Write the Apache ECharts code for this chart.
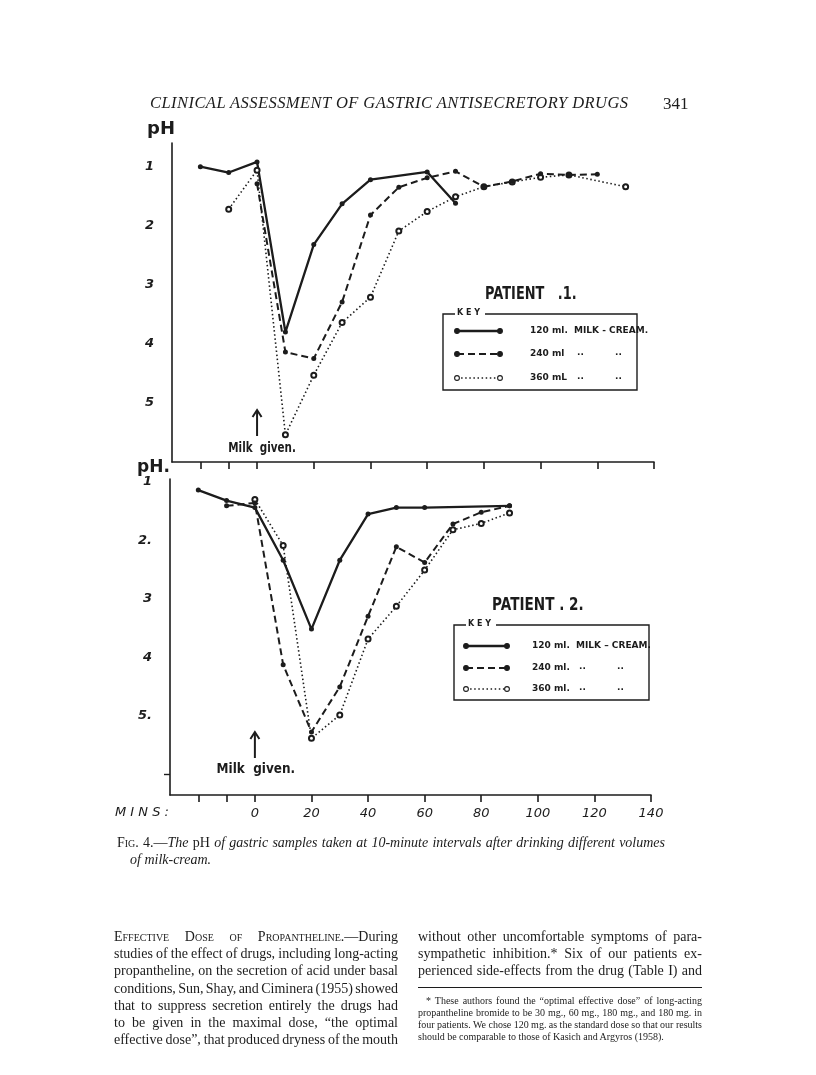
<!DOCTYPE html>
<html>
<head>
<meta charset="utf-8">
<script src="https://cdn.jsdelivr.net/npm/echarts@6/dist/echarts.min.js"></script>
<style>
  body { margin: 0; background: #fff; }
  #page { position: relative; width: 816px; height: 1075px; overflow: hidden; background: #fff; color: #1c1c1c; }
  #chart { position: absolute; left: 0; top: 0; width: 816px; height: 1075px; }
  .ln { position: absolute; display: inline-block; white-space: nowrap; font-family: 'Liberation Serif', 'DejaVu Serif', serif; line-height: 1; }
  .body { font-size: 14px; }
  .foot { font-size: 10px; }
  .sc { font-variant: small-caps; }
  .it { font-style: italic; }
</style>
</head>
<body>
<div id="page">
  <div id="chart"></div>

  <span class="ln it" id="hdr" style="left:150px;top:95px;font-size:16.5px">CLINICAL ASSESSMENT OF GASTRIC ANTISECRETORY DRUGS</span>
  <span class="ln" style="left:663px;top:95px;font-size:17px">341</span>

  <span class="ln cap" id="cap1" style="left:117px;top:836px;font-size:14px"><span class="sc">Fig.</span> 4.—<i>The </i>pH<i> of gastric samples taken at 10-minute intervals after drinking different volumes</i></span>
  <span class="ln it" style="left:130px;top:853px;font-size:14px">of milk-cream.</span>

  <span class="ln body jl" style="left:114px;top:930px"><span class="sc">Effective Dose of Propantheline.</span>—During</span>
  <span class="ln body jl" style="left:114px;top:947px">studies of the effect of drugs, including long-acting</span>
  <span class="ln body jl" style="left:114px;top:964px">propantheline, on the secretion of acid under basal</span>
  <span class="ln body jl" style="left:114px;top:982px">conditions, Sun, Shay, and Ciminera (1955) showed</span>
  <span class="ln body jl" style="left:114px;top:999px">that to suppress secretion entirely the drugs had</span>
  <span class="ln body jl" style="left:114px;top:1016px">to be given in the maximal dose, “the optimal</span>
  <span class="ln body jl" style="left:114px;top:1033px">effective dose”, that produced dryness of the mouth</span>

  <span class="ln body jr" style="left:418px;top:930px">without other uncomfortable symptoms of para-</span>
  <span class="ln body jr" style="left:418px;top:947px">sympathetic inhibition.*  Six of our patients ex-</span>
  <span class="ln body jr" style="left:418px;top:964px">perienced side-effects from the drug (Table I) and</span>
  <div style="position:absolute;left:418px;top:987px;width:284px;height:1px;background:#1c1c1c"></div>
  <span class="ln foot" id="f1" style="left:426px;top:996px">* These authors found the “optimal effective dose” of long-acting</span>
  <span class="ln foot jr" style="left:418px;top:1008px">propantheline bromide to be 30 mg., 60 mg., 180 mg., and 180 mg.  in</span>
  <span class="ln foot jr" style="left:418px;top:1020px">four patients. We chose 120 mg. as the standard dose so that our results</span>
  <span class="ln foot" style="left:418px;top:1032px">should be comparable to those of Kasich and Argyros (1958).</span>
</div>

<script>
// minutes after milk, pH values
const tickMins = [-20, -10, 0, 20, 40, 60, 80, 100, 120, 140];
const labelMins = [0, 20, 40, 60, 80, 100, 120, 140];
const phTicks = [1, 2, 3, 4, 5];

// Patient 1
const p1_120 = [[-20, 1.0], [-10, 1.1], [0, 0.92], [10, 3.8], [20, 2.32], [30, 1.63], [40, 1.22], [60, 1.09], [70, 1.62]];
const p1_240 = [[0, 1.29], [10, 4.14], [20, 4.25], [30, 3.29], [40, 1.82], [50, 1.35], [60, 1.19], [70, 1.08], [80, 1.34], [90, 1.25], [100, 1.12], [110, 1.14], [120, 1.13]];
const p1_360 = [[-10, 1.72], [0, 1.06], [10, 5.54], [20, 4.53], [30, 3.64], [40, 3.21], [50, 2.09], [60, 1.76], [70, 1.51], [80, 1.34], [90, 1.26], [100, 1.18], [110, 1.14], [130, 1.34]];

// Patient 2
const p2_120 = [[-20, 1.14], [-10, 1.32], [0, 1.44], [10, 2.34], [20, 3.52], [30, 2.34], [40, 1.55], [50, 1.44], [60, 1.44], [90, 1.41]];
const p2_240 = [[-10, 1.41], [0, 1.36], [10, 4.13], [20, 5.28], [30, 4.51], [40, 3.3], [50, 2.11], [60, 2.38], [70, 1.72], [80, 1.52], [90, 1.41]];
const p2_360 = [[0, 1.3], [10, 2.09], [20, 5.39], [30, 4.99], [40, 3.69], [50, 3.13], [60, 2.51], [70, 1.82], [80, 1.71], [90, 1.53]];

const key1Labels = ['120 ml.  MILK - CREAM.', '240 ml', '360 mL'];
const key2Labels = ['120 ml.  MILK – CREAM.', '240 ml.', '360 ml.'];

const ink = '#1c1c1c';
const axisFont = "'DejaVu Sans', 'Liberation Sans', sans-serif";
const condFont = "'DejaVu Sans', sans-serif";

const styles = {
  solid: { lineStyle: { color: ink, width: 2.3, type: 'solid' }, symbol: 'circle', symbolSize: 5, itemStyle: { color: ink } },
  dashed: { lineStyle: { color: ink, width: 2, type: [7, 4] }, symbol: 'circle', symbolSize: 5, itemStyle: { color: ink } },
  dotted: { lineStyle: { color: ink, width: 1.6, type: [1.5, 2.6] }, symbol: 'emptyCircle', symbolSize: 5, itemStyle: { color: ink, borderWidth: 1.2 } }
};

function makeSeries(name, data, kind, idx) {
  return Object.assign({
    name: name, type: 'line', data: data,
    xAxisIndex: idx, yAxisIndex: idx,
    animation: false, silent: true
  }, JSON.parse(JSON.stringify(styles[kind])));
}

function xAxisDef(idx, showLabels) {
  return {
    gridIndex: idx, type: 'value', min: -30, max: 140,
    axisLine: { show: true, onZero: false, lineStyle: { color: ink, width: 1.6 } },
    axisTick: { show: true, customValues: tickMins, length: 7, lineStyle: { color: ink, width: 1.6 } },
    axisLabel: {
      show: showLabels, customValues: labelMins, color: ink, fontStyle: 'italic',
      fontFamily: axisFont, fontSize: 13, margin: 12
    },
    splitLine: { show: false }
  };
}

function yAxisDef(idx, min, max, tickVals, fmt) {
  return {
    gridIndex: idx, type: 'value', inverse: true, min: min, max: max,
    axisLine: { show: true, onZero: false, lineStyle: { color: ink, width: 1.6 } },
    axisTick: { show: tickVals.length > 0, customValues: tickVals, length: 6, lineStyle: { color: ink, width: 1.4 } },
    axisLabel: {
      customValues: phTicks, color: ink, fontStyle: 'italic', fontWeight: 'bold',
      fontFamily: axisFont, fontSize: 13, margin: 18, formatter: fmt
    },
    splitLine: { show: false }
  };
}

const chart = echarts.init(document.getElementById('chart'), null, { renderer: 'canvas' });

chart.setOption({
  backgroundColor: 'transparent',
  animation: false,
  grid: [
    { left: 172, right: 162, top: 143, bottom: 613 },
    { left: 170, right: 165, top: 479, bottom: 280 }
  ],
  xAxis: [xAxisDef(0, false), xAxisDef(1, true)],
  yAxis: [
    yAxisDef(0, 0.6, 6.0, [], v => String(v)),
    yAxisDef(1, 0.95, 6.36, [6], v => ({ 1: '1', 2: '2.', 3: '3', 4: '4', 5: '5.' })[v] || '')
  ],
  series: [
    makeSeries('360 ml', p1_360, 'dotted', 0),
    makeSeries('240 ml', p1_240, 'dashed', 0),
    makeSeries('120 ml', p1_120, 'solid', 0),
    makeSeries('360 ml', p2_360, 'dotted', 1),
    makeSeries('240 ml', p2_240, 'dashed', 1),
    makeSeries('120 ml', p2_120, 'solid', 1)
  ]
});

// decorations: axis titles, arrows, patient titles, keys
function arrow(x, y0, y1) {
  return [
    { type: 'line', shape: { x1: x, y1: y0 + 1, x2: x, y2: y1 }, style: { stroke: ink, lineWidth: 2 } },
    { type: 'polyline', shape: { points: [[x - 4.5, y0 + 7], [x, y0], [x + 4.5, y0 + 7]] }, style: { stroke: ink, lineWidth: 2, fill: null } }
  ];
}

function condText(x, y, text, size, sx, align) {
  return {
    type: 'text', x: x, y: y, scaleX: sx,
    style: { text: text, fill: ink, align: align || 'left', verticalAlign: 'middle', font: 'bold ' + size + 'px ' + condFont }
  };
}

function keyBox(x, y, w, h, rowYs, sampleX0, sampleX1, textX, labels) {
  const els = [
    { type: 'rect', shape: { x: x, y: y, width: w, height: h }, style: { fill: 'none', stroke: ink, lineWidth: 1.4 } },
    { type: 'rect', shape: { x: x + 12, y: y - 5, width: 30, height: 10 }, style: { fill: '#fff' } },
    { type: 'text', x: x + 14, y: y - 5, style: { text: 'K E Y', fill: ink, font: "bold 8px 'DejaVu Sans', sans-serif" } }
  ];
  const kinds = ['solid', 'dashed', 'dotted'];
  kinds.forEach((k, i) => {
    const st = styles[k];
    const yy = rowYs[i];
    els.push({ type: 'line', shape: { x1: sampleX0, y1: yy, x2: sampleX1, y2: yy },
      style: { stroke: ink, lineWidth: st.lineStyle.width, lineDash: k === 'solid' ? null : st.lineStyle.type } });
    [sampleX0, sampleX1].forEach(cx => {
      els.push({ type: 'circle', shape: { cx: cx, cy: yy, r: 2.4 },
        style: { fill: k === 'dotted' ? '#fff' : ink, stroke: ink, lineWidth: 1.1 } });
    });
    els.push({ type: 'text', x: textX, y: yy - 5, style: { text: labels[i], fill: ink, font: "bold 9px 'DejaVu Sans', sans-serif" } });
    if (i > 0) {
      els.push({ type: 'text', x: textX + 47, y: yy - 6, style: { text: '..', fill: ink, font: "bold 9px 'DejaVu Sans', sans-serif" } });
      els.push({ type: 'text', x: textX + 85, y: yy - 6, style: { text: '..', fill: ink, font: "bold 9px 'DejaVu Sans', sans-serif" } });
    }
  });
  return els;
}

const x0top = chart.convertToPixel({ xAxisIndex: 0 }, 0);
const x0bot = chart.convertToPixel({ xAxisIndex: 1 }, 0);

let g = [];
g.push({ type: 'text', x: 147, y: 120, style: { text: 'pH', fill: ink, font: "bold 18px 'DejaVu Sans', sans-serif" } });
g.push({ type: 'text', x: 137, y: 459, style: { text: 'pH.', fill: ink, font: "bold 17px 'DejaVu Sans', sans-serif" } });
g = g.concat(arrow(x0top, 410, 436));
g.push(condText(x0top + 5, 448, 'Milk  given.', 14, 0.74, 'center'));
g = g.concat(arrow(x0bot, 732, 758));
g.push(condText(x0bot + 1, 769, 'Milk  given.', 14, 0.86, 'center'));
g.push(condText(485, 295, 'PATIENT   .1.', 17, 0.76));
g.push(condText(492, 606, 'PATIENT . 2.', 17, 0.8));
g.push({ type: 'text', x: 115, y: 813, style: { text: 'M I N S :', fill: ink, verticalAlign: 'middle', font: "italic 13px 'DejaVu Sans', sans-serif" } });
g = g.concat(keyBox(443, 314, 194, 76, [331, 354, 378], 457, 500, 530, key1Labels));
g = g.concat(keyBox(454, 625, 195, 75, [646, 668, 689], 466, 507, 532, key2Labels));

chart.setOption({ graphic: { elements: g } });

// justify text lines to their column widths
function justify(el, width) {
  el.style.wordSpacing = '0px';
  const w = el.getBoundingClientRect().width;
  const n = (el.textContent.match(/ +/g) || []).length;
  if (n) el.style.wordSpacing = ((width - w) / n) + 'px';
}
function spread(el, width) {
  el.style.letterSpacing = '0px';
  const w = el.getBoundingClientRect().width;
  const n = el.textContent.length - 1;
  el.style.letterSpacing = ((width - w) / n) + 'px';
}
spread(document.getElementById('hdr'), 478);
justify(document.getElementById('cap1'), 548);
document.querySelectorAll('.body.jl, .body.jr').forEach(el => justify(el, 284));
document.querySelectorAll('.foot.jr').forEach(el => justify(el, 284));
justify(document.getElementById('f1'), 276);
</script>
</body>
</html>
